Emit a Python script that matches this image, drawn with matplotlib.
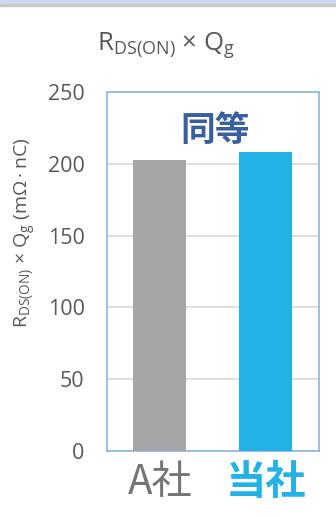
import matplotlib.pyplot as plt
from matplotlib.patches import Rectangle

companies = ["A社", "当社"]
values = [202.5, 208.5]
bar_colors = ["#a6a5a8", "#22b2e6"]
label_colors = ["#767476", "#22b2e6"]
label_weights = ["normal", "bold"]
yticks = [0, 50, 100, 150, 200, 250]
note = "同等"

plt.rcParams["font.family"] = ["Open Sans", "Noto Sans CJK JP", "DejaVu Sans"]
plt.rcParams["mathtext.default"] = "regular"

fig = plt.figure(figsize=(3.36, 5.17), dpi=100)
ax = fig.add_axes([0.318, 0.1277, 0.631, 0.694])

# window header strip
fig.patches.append(Rectangle((0, 0.991), 1, 0.009, transform=fig.transFigure,
                             color="#c9d9ef", zorder=0))
fig.patches.append(Rectangle((0, 0.989), 1, 0.003, transform=fig.transFigure,
                             color="#c8c8c8", zorder=0))

x = range(len(companies))
ax.bar(x, values, width=0.5, color=bar_colors, zorder=3)

ax.set_xlim(-0.5, 1.5)
ax.set_ylim(0, 250)
ax.set_yticks(yticks)
ax.set_yticklabels([str(v) for v in yticks], color="#595959", fontsize=15.5)
ax.tick_params(axis="y", length=0, pad=16)
ax.grid(axis="y", color="#d9d9d9", linewidth=1.2, zorder=1)

ax.set_xticks(list(x))
ax.set_xticklabels([])
ax.tick_params(axis="x", length=0)
for i, (name, c, w) in enumerate(zip(companies, label_colors, label_weights)):
    ax.text(i, -8, name, ha="center", va="top", fontsize=29, color=c,
            fontweight=w, family=["Noto Sans CJK JP"], clip_on=False)

for s in ax.spines.values():
    s.set_color("#8db4e2")
    s.set_linewidth(1.2)

ax.text(0.52, 223, note, ha="center", va="center", fontsize=25,
        fontweight="bold", color="#3a5f9e", family=["Noto Sans CJK JP"])

fig.text(0.495, 0.912, r"$R_{DS(ON)}$ × $Q_g$", ha="center", va="center",
         fontsize=18.5, color="#595959")
ax.set_ylabel(r"$R_{DS(ON)}$ × $Q_g$ (mΩ$\,$·$\,$nC)", fontsize=14,
              color="#595959")
ax.yaxis.set_label_coords(-0.325, 0.607)

fig.savefig("out.png", dpi=100)
